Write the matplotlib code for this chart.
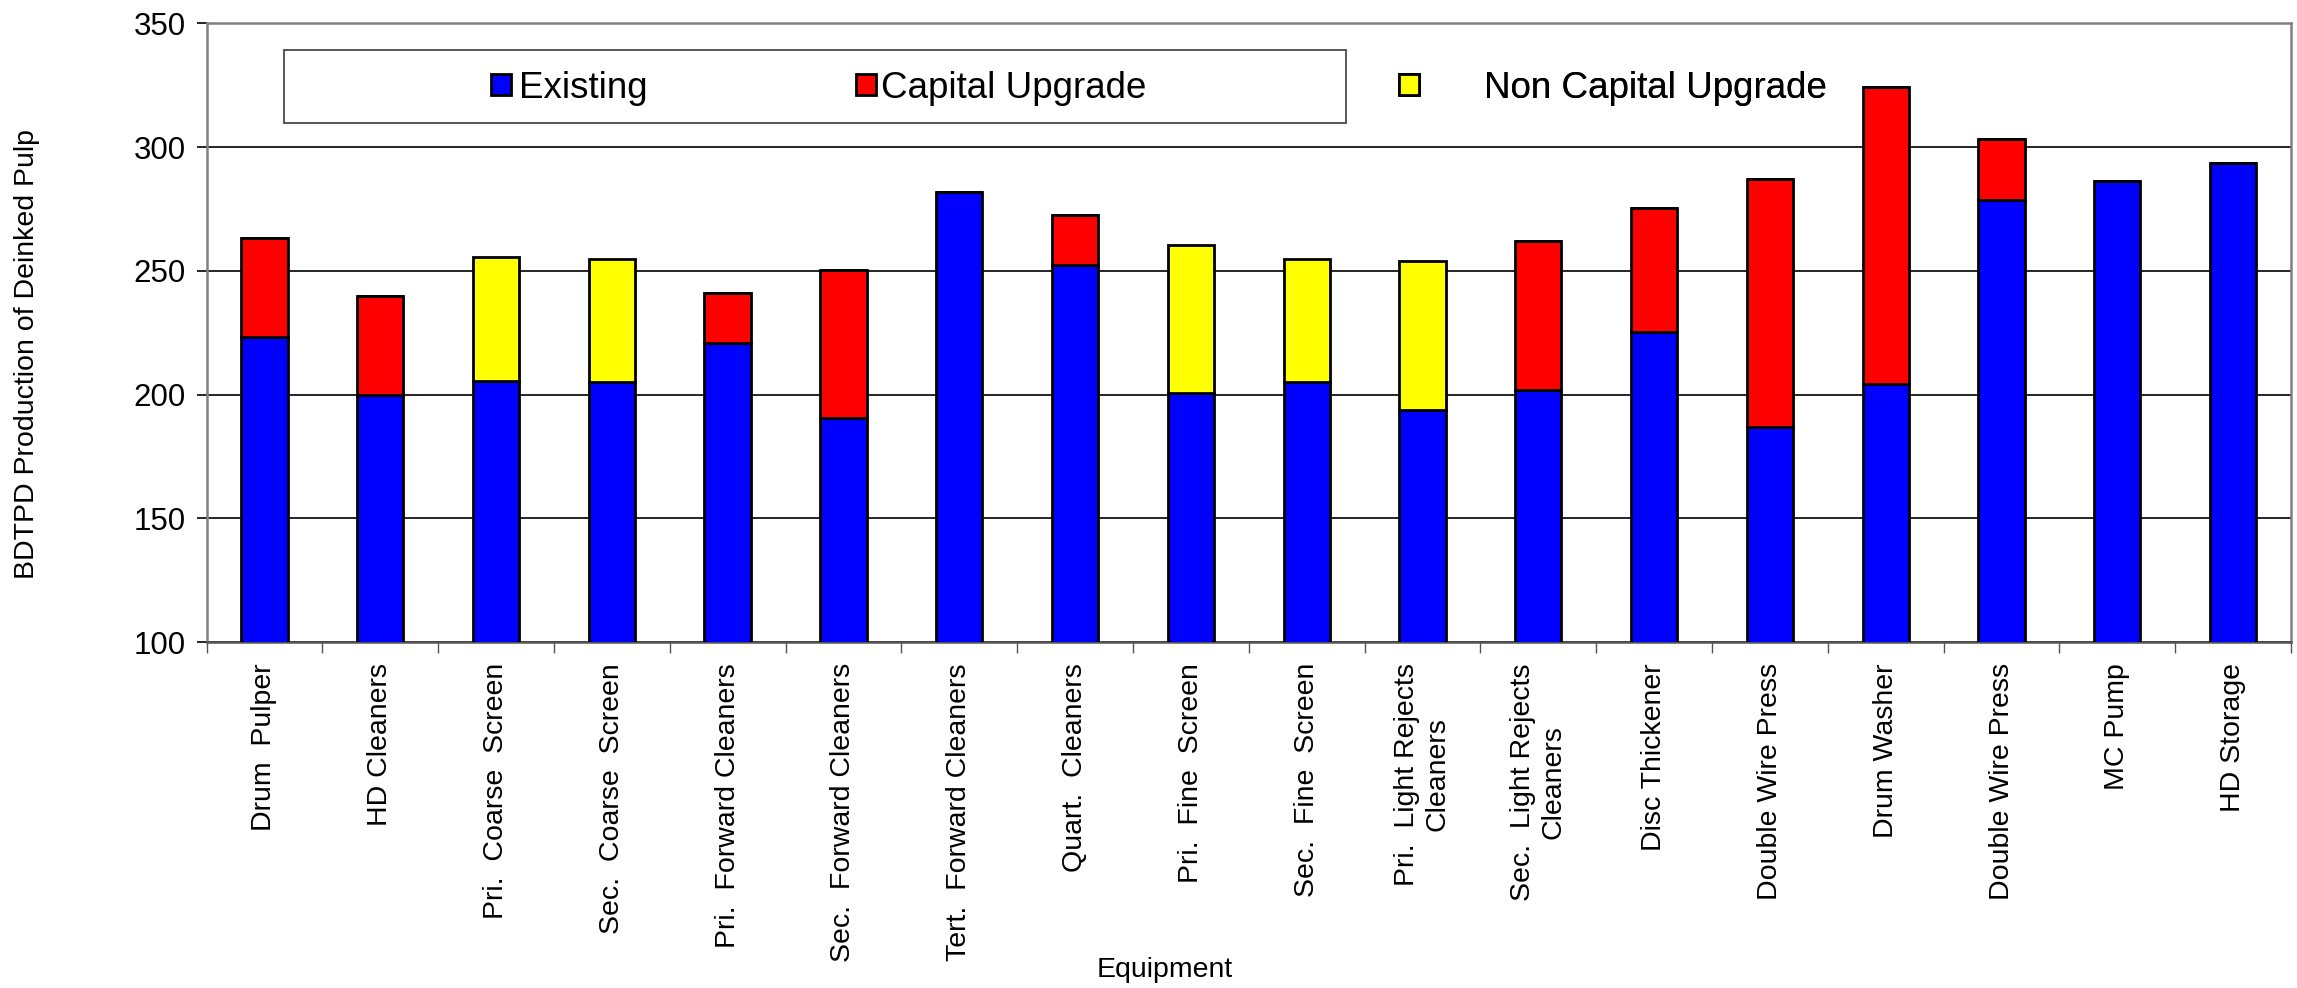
import matplotlib
matplotlib.use("Agg")
import matplotlib.pyplot as plt
import matplotlib.patches as mpatches
import numpy as np

plt.rcParams["font.family"] = ["Liberation Sans", "DejaVu Sans"]

# Equipment along the x axis
equipment = ["Drum  Pulper", "HD Cleaners", "Pri.  Coarse  Screen", "Sec.  Coarse  Screen",
             "Pri.  Forward Cleaners", "Sec.  Forward Cleaners", "Tert.  Forward Cleaners",
             "Quart.  Cleaners", "Pri.  Fine  Screen", "Sec.  Fine  Screen",
             "Pri.  Light Rejects\nCleaners", "Sec.  Light Rejects\nCleaners", "Disc Thickener",
             "Double Wire Press", "Drum Washer", "Double Wire Press", "MC Pump", "HD Storage"]

# BDTPD capacity: existing, then the increments from each upgrade type
existing = [223.5, 200, 205.5, 205, 221, 190.5, 282, 252.5, 200.5, 205, 194, 202, 225.5, 187, 204.5, 278.5, 286.5, 293.5]
capital = [40, 40, 0, 0, 20, 60, 0, 20, 0, 0, 0, 60, 50, 100, 120, 25, 0, 0]
non_capital = [0, 0, 50, 50, 0, 0, 0, 0, 60, 50, 60, 0, 0, 0, 0, 0, 0, 0]

y_ticks = [100, 150, 200, 250, 300, 350]

fig = plt.figure(figsize=(22.97, 9.88), dpi=100)
ax = fig.add_axes([0.0899, 0.350, 0.9075, 0.6263])

x = np.arange(len(equipment))
existing = np.array(existing)
capital = np.array(capital)
non_capital = np.array(non_capital)

bar_kw = dict(width=0.4, edgecolor="black", linewidth=2.0, zorder=3)
b1 = ax.bar(x, existing, color="#0000FF", **bar_kw)
b2 = ax.bar(x, capital, bottom=existing, color="#FF0000", **bar_kw)
b3 = ax.bar(x, non_capital, bottom=existing + capital, color="#FFFF00", **bar_kw)

ax.set_ylim(100, 350)
ax.set_xlim(-0.5, len(equipment) - 0.5)
ax.set_yticks(y_ticks)
ax.set_yticklabels([str(v) for v in y_ticks], fontsize=22.5)
ax.tick_params(axis="y", direction="out", length=7, width=1.2, pad=8, colors="black")

# category labels at bar centres, tick marks between categories
ax.set_xticks(x)
ax.set_xticklabels(equipment, rotation=90, fontsize=20.5, va="top", ha="center", multialignment="center")
ax.tick_params(axis="x", which="major", length=0, pad=15)
ax.set_xticks(np.arange(-0.5, len(equipment) + 0.5, 1), minor=True)
ax.tick_params(axis="x", which="minor", direction="out", length=8, width=1.0, color="#555555")

ax.yaxis.grid(True, color="black", linewidth=1.2, zorder=0)
ax.set_axisbelow(True)
for side in ["top", "right", "left"]:
    ax.spines[side].set_color("#808080")
    ax.spines[side].set_linewidth(1.8)
ax.spines["bottom"].set_color("#555555")
ax.spines["bottom"].set_linewidth(1.8)

# legend frame drawn by hand, the third entry spills outside it
ax.add_patch(mpatches.Rectangle((0.0372, 0.839), 0.5096, 0.1183, transform=ax.transAxes,
                                fill=True, facecolor="white", edgecolor="#555555", linewidth=1.4, zorder=5))

leg_y = 0.8956
entries = [(b1, "Existing", 0.1364, 0.22), (b2, "Capital Upgrade", 0.3116, 0.12), (b3, "Non Capital Upgrade", 0.5721, 1.75)]
for handle, label, lx, pad in entries:
    leg = ax.legend([handle], [label], loc="center left", bbox_to_anchor=(lx, leg_y),
                    frameon=False, borderpad=0, borderaxespad=0, handlelength=0.55, handleheight=0.5,
                    handletextpad=pad, fontsize=26.5)
    leg.set_zorder(6)
    ax.add_artist(leg)

fig.text(0.0118, 0.642, "BDTPD Production of Deinked Pulp", rotation=90, fontsize=20.5, ha="center", va="center")
fig.text(1165 / 2297, 0.018, "Equipment", fontsize=20.5, ha="center", va="center")

fig.savefig("out.png", dpi=100)
